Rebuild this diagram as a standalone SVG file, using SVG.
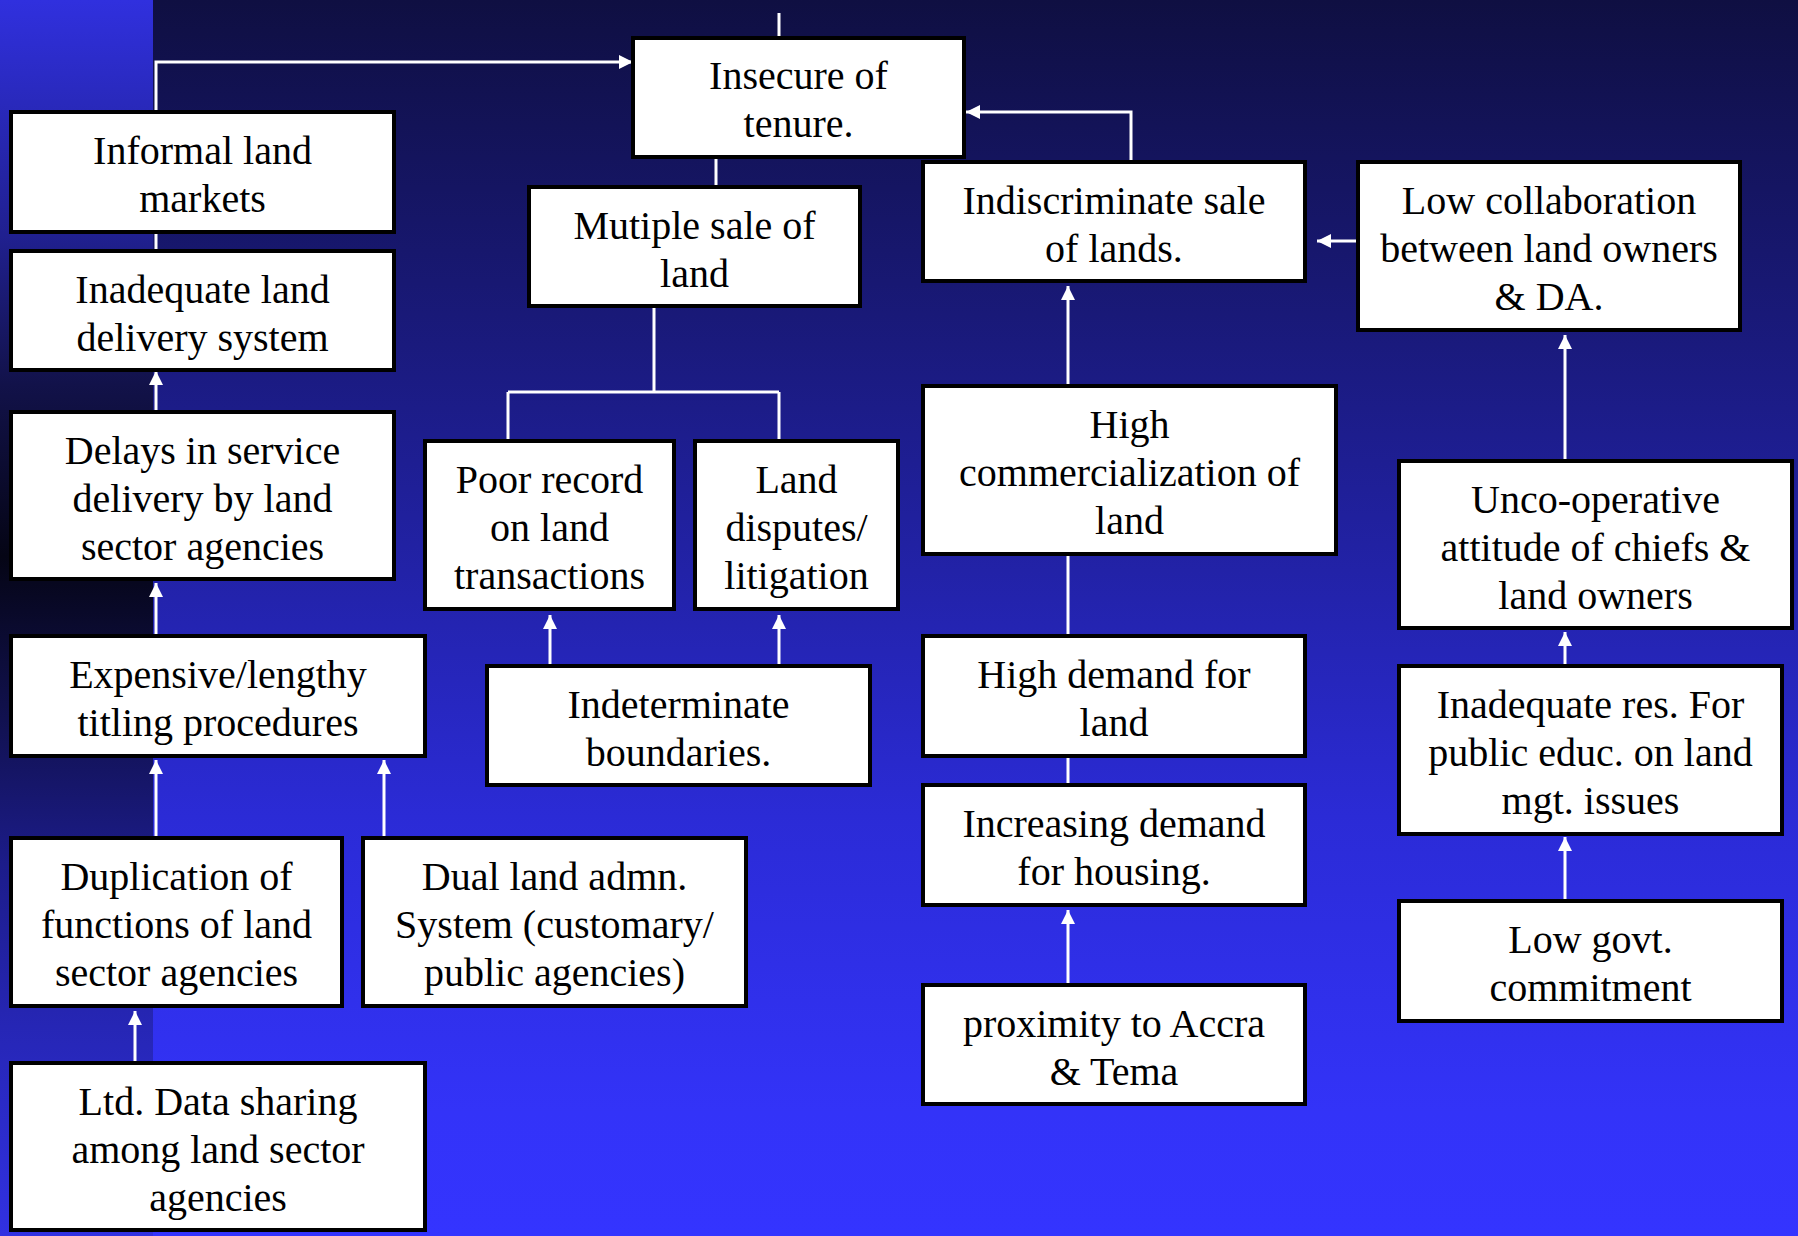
<svg xmlns="http://www.w3.org/2000/svg" width="1798" height="1236" viewBox="0 0 1798 1236">
  <defs>
    <linearGradient id="bgMain" x1="0" y1="0" x2="0" y2="1">
      <stop offset="0" stop-color="#0f0f42"/>
      <stop offset="0.33" stop-color="#1c1c88"/>
      <stop offset="0.66" stop-color="#2b2bd6"/>
      <stop offset="0.9" stop-color="#3333f8"/>
      <stop offset="1" stop-color="#3434ff"/>
    </linearGradient>
    <linearGradient id="bgStrip" x1="0" y1="0" x2="0" y2="1">
      <stop offset="0" stop-color="#3030de"/>
      <stop offset="0.19" stop-color="#202090"/>
      <stop offset="0.31" stop-color="#12124a"/>
      <stop offset="0.45" stop-color="#050515"/>
      <stop offset="0.57" stop-color="#10104a"/>
      <stop offset="0.7" stop-color="#1c1c8a"/>
      <stop offset="0.83" stop-color="#2626b5"/>
      <stop offset="1" stop-color="#3131e2"/>
    </linearGradient>
    <marker id="arrow" markerUnits="userSpaceOnUse" markerWidth="16" markerHeight="14" refX="14" refY="7" orient="auto">
      <path d="M0,0 L14,7 L0,14 z" fill="#ffffff"/>
    </marker>
    <style>
      .box { fill: #ffffff; stroke: #000000; stroke-width: 4; }
      .lbl { font-family: "Liberation Serif", "Times New Roman", "DejaVu Serif", serif; font-size: 40px; fill: #000000; text-anchor: middle; }
      .conn { fill: none; stroke: #ffffff; stroke-width: 3; }
      .arr { marker-end: url(#arrow); }
    </style>
  </defs>

  <rect x="0" y="0" width="1798" height="1236" fill="url(#bgMain)"/>
  <rect x="0" y="0" width="153" height="1236" fill="url(#bgStrip)"/>

  <g id="connectors">
    <path class="conn" d="M779 13 V38"/>
    <path class="conn arr" d="M156 112 V62 H633"/>
    <path class="conn" d="M156 232 V251"/>
    <path class="conn arr" d="M156 412 V371"/>
    <path class="conn arr" d="M156 636 V583"/>
    <path class="conn arr" d="M156 838 V760"/>
    <path class="conn arr" d="M384 838 V760"/>
    <path class="conn arr" d="M135 1063 V1011"/>
    <path class="conn" d="M716 187 V157"/>
    <path class="conn" d="M654 306 V392 M508 392 H779 M508 392 V441 M779 392 V441"/>
    <path class="conn arr" d="M550 666 V615"/>
    <path class="conn arr" d="M779 666 V615"/>
    <path class="conn arr" d="M1131 162 V112 H966"/>
    <path class="conn arr" d="M1068 386 V286"/>
    <path class="conn arr" d="M1358 241 H1317"/>
    <path class="conn" d="M1068 554 V636"/>
    <path class="conn" d="M1068 756 V785"/>
    <path class="conn arr" d="M1068 985 V910"/>
    <path class="conn arr" d="M1565 461 V335"/>
    <path class="conn arr" d="M1565 666 V632"/>
    <path class="conn arr" d="M1565 901 V837"/>
  </g>

  <g id="n-insecure">
    <rect class="box" x="633" y="38" width="331" height="119"/>
    <text class="lbl" x="798.5" y="89">Insecure of</text>
    <text class="lbl" x="798.5" y="137">tenure.</text>
  </g>
  <g id="n-informal">
    <rect class="box" x="11" y="112" width="383" height="120"/>
    <text class="lbl" x="202.5" y="164">Informal land</text>
    <text class="lbl" x="202.5" y="212">markets</text>
  </g>
  <g id="n-inadequate-delivery">
    <rect class="box" x="11" y="251" width="383" height="119"/>
    <text class="lbl" x="202.5" y="303">Inadequate land</text>
    <text class="lbl" x="202.5" y="351">delivery system</text>
  </g>
  <g id="n-delays">
    <rect class="box" x="11" y="412" width="383" height="167"/>
    <text class="lbl" x="202.5" y="464">Delays in service</text>
    <text class="lbl" x="202.5" y="512">delivery by land</text>
    <text class="lbl" x="202.5" y="560">sector agencies</text>
  </g>
  <g id="n-expensive">
    <rect class="box" x="11" y="636" width="414" height="120"/>
    <text class="lbl" x="218" y="688">Expensive/lengthy</text>
    <text class="lbl" x="218" y="736">titling procedures</text>
  </g>
  <g id="n-duplication">
    <rect class="box" x="11" y="838" width="331" height="168"/>
    <text class="lbl" x="176.5" y="890">Duplication of</text>
    <text class="lbl" x="176.5" y="938">functions of land</text>
    <text class="lbl" x="176.5" y="986">sector agencies</text>
  </g>
  <g id="n-dual">
    <rect class="box" x="363" y="838" width="383" height="168"/>
    <text class="lbl" x="554.5" y="890">Dual land admn.</text>
    <text class="lbl" x="554.5" y="938">System (customary/</text>
    <text class="lbl" x="554.5" y="986">public agencies)</text>
  </g>
  <g id="n-ltd">
    <rect class="box" x="11" y="1063" width="414" height="167"/>
    <text class="lbl" x="218" y="1115">Ltd. Data sharing</text>
    <text class="lbl" x="218" y="1163">among land sector</text>
    <text class="lbl" x="218" y="1211">agencies</text>
  </g>
  <g id="n-mutiple">
    <rect class="box" x="529" y="187" width="331" height="119"/>
    <text class="lbl" x="694.5" y="239">Mutiple sale of</text>
    <text class="lbl" x="694.5" y="287">land</text>
  </g>
  <g id="n-poor-record">
    <rect class="box" x="425" y="441" width="249" height="168"/>
    <text class="lbl" x="549.5" y="493">Poor record</text>
    <text class="lbl" x="549.5" y="541">on land</text>
    <text class="lbl" x="549.5" y="589">transactions</text>
  </g>
  <g id="n-disputes">
    <rect class="box" x="695" y="441" width="203" height="168"/>
    <text class="lbl" x="796.5" y="493">Land</text>
    <text class="lbl" x="796.5" y="541">disputes/</text>
    <text class="lbl" x="796.5" y="589">litigation</text>
  </g>
  <g id="n-indeterminate">
    <rect class="box" x="487" y="666" width="383" height="119"/>
    <text class="lbl" x="678.5" y="718">Indeterminate</text>
    <text class="lbl" x="678.5" y="766">boundaries.</text>
  </g>
  <g id="n-indiscriminate">
    <rect class="box" x="923" y="162" width="382" height="119"/>
    <text class="lbl" x="1114" y="214">Indiscriminate sale</text>
    <text class="lbl" x="1114" y="262">of lands.</text>
  </g>
  <g id="n-low-collab">
    <rect class="box" x="1358" y="162" width="382" height="168"/>
    <text class="lbl" x="1549" y="214">Low collaboration</text>
    <text class="lbl" x="1549" y="262">between land owners</text>
    <text class="lbl" x="1549" y="310">&amp; DA.</text>
  </g>
  <g id="n-high-comm">
    <rect class="box" x="923" y="386" width="413" height="168"/>
    <text class="lbl" x="1129.5" y="438">High</text>
    <text class="lbl" x="1129.5" y="486">commercialization of</text>
    <text class="lbl" x="1129.5" y="534">land</text>
  </g>
  <g id="n-high-demand">
    <rect class="box" x="923" y="636" width="382" height="120"/>
    <text class="lbl" x="1114" y="688">High demand for</text>
    <text class="lbl" x="1114" y="736">land</text>
  </g>
  <g id="n-increasing">
    <rect class="box" x="923" y="785" width="382" height="120"/>
    <text class="lbl" x="1114" y="837">Increasing demand</text>
    <text class="lbl" x="1114" y="885">for housing.</text>
  </g>
  <g id="n-proximity">
    <rect class="box" x="923" y="985" width="382" height="119"/>
    <text class="lbl" x="1114" y="1037">proximity to Accra</text>
    <text class="lbl" x="1114" y="1085">&amp; Tema</text>
  </g>
  <g id="n-unco">
    <rect class="box" x="1399" y="461" width="393" height="167"/>
    <text class="lbl" x="1595.5" y="513">Unco-operative</text>
    <text class="lbl" x="1595.5" y="561">attitude of chiefs &amp;</text>
    <text class="lbl" x="1595.5" y="609">land owners</text>
  </g>
  <g id="n-inadequate-res">
    <rect class="box" x="1399" y="666" width="383" height="168"/>
    <text class="lbl" x="1590.5" y="718">Inadequate res. For</text>
    <text class="lbl" x="1590.5" y="766">public educ. on land</text>
    <text class="lbl" x="1590.5" y="814">mgt. issues</text>
  </g>
  <g id="n-low-govt">
    <rect class="box" x="1399" y="901" width="383" height="120"/>
    <text class="lbl" x="1590.5" y="953">Low govt.</text>
    <text class="lbl" x="1590.5" y="1001">commitment</text>
  </g>
</svg>
